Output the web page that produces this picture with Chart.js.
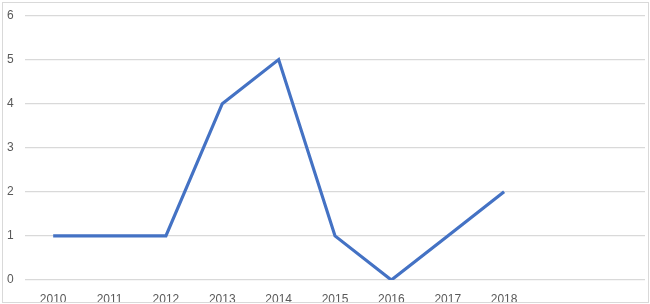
<!DOCTYPE html>
<html>
<head>
<meta charset="utf-8">
<script src="https://cdn.jsdelivr.net/npm/chart.js@4/dist/chart.umd.min.js"></script>
<style>
  html, body { margin: 0; padding: 0; background: #fff; }
  #frame { position: absolute; left: 2px; top: 2px; width: 645px; height: 299px;
           border: 1px solid #d9d9d9; overflow: hidden; background: #fff; }
  #wrap { position: absolute; left: 0; top: 0; width: 645px; height: 312px; }
</style>
</head>
<body>
<div id="frame"><div id="wrap"><canvas id="c"></canvas></div></div>
<script>
const categories = ['2010','2011','2012','2013','2014','2015','2016','2017','2018','',''];
const seriesValues = [1, 1, 1, 4, 5, 1, 0, 1, 2, null, null];
const yTicks = [0, 1, 2, 3, 4, 5, 6];

new Chart(document.getElementById('c'), {
  type: 'line',
  data: {
    labels: categories,
    datasets: [{
      data: seriesValues,
      borderColor: '#4472c4',
      borderWidth: 3.2,
      pointRadius: 0,
      tension: 0,
      fill: false,
      spanGaps: false
    }]
  },
  options: {
    responsive: true,
    maintainAspectRatio: false,
    animation: false,
    layout: { padding: { left: 4, right: 3, top: 12.5, bottom: 0 } },
    plugins: { legend: { display: false }, tooltip: { enabled: false } },
    scales: {
      x: {
        offset: true,
        grid: { display: false },
        border: { display: false },
        ticks: { color: '#595959', font: { family: 'Liberation Sans', size: 12 }, padding: 4, maxRotation: 0, autoSkip: false },
        afterFit: (s) => { s.height = 35; }
      },
      y: {
        min: 0, max: 6,
        afterBuildTicks: (s) => { s.ticks = yTicks.map(v => ({ value: v })); },
        grid: { color: '#d9d9d9', lineWidth: 1.3, drawTicks: false },
        border: { display: false },
        ticks: { color: '#595959', font: { family: 'Liberation Sans', size: 12 }, crossAlign: 'far', padding: 0 },
        afterFit: (s) => { s.width = 18; }
      }
    }
  }
});
</script>
</body>
</html>
